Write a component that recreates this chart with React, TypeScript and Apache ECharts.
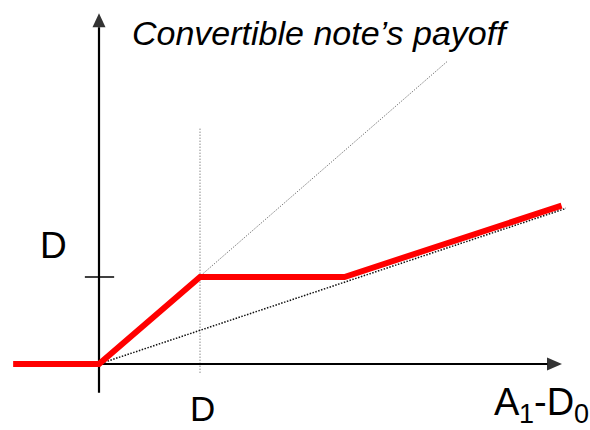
import React, { useEffect, useRef } from "react";
import * as echarts from "echarts";

// Payoff of the convertible note (units: D = 1)
const payoffX = [-0.85, 0, 1, 2.43, 4.58];
const payoffY = [0, 0, 1, 1, 1.82];

// Firm value line (payoff = A1 - D0)
const firmLineX = [0, 3.45];
const firmLineY = [0, 3.48];

// Conversion value line
const conversionLineX = [0, 4.73];
const conversionLineY = [0, 1.83];

// Vertical guide at D
const guideX = [1, 1];
const guideY = [-0.1, 2.71];

// Axes
const xAxisX = [0, 4.44];
const xAxisY = [0, 0];
const yAxisX = [0, 0];
const yAxisY = [-0.33, 3.87];
const xArrow = [4.51, 0];
const yArrow = [0, 3.95];

// Tick mark at D on the vertical axis
const tickX = [-0.14, 0.15];
const tickY = [1, 1];

const titleText = "Convertible note\u2019s payoff";
const tickLabel = "D";

const zip = (xs: number[], ys: number[]) => xs.map((x, i) => [x, ys[i]]);

const FONT = "Liberation Sans, Arial, sans-serif";

export default function App() {
  const ref = useRef<HTMLDivElement>(null);

  useEffect(() => {
    if (!ref.current) return;
    const chart = echarts.init(ref.current, undefined, { renderer: "svg" });

    const lineBase = {
      type: "line" as const,
      symbol: "none",
      clip: false,
      silent: true,
    };

    chart.setOption({
      animation: false,
      backgroundColor: "#ffffff",
      // 1 unit = 101 px horizontally, 87 px vertically; origin at (99, 364)
      grid: { left: 3.05, top: 16, width: 560.55, height: 382.8 },
      xAxis: {
        type: "value",
        min: -0.95,
        max: 4.6,
        show: false,
      },
      yAxis: {
        type: "value",
        min: -0.4,
        max: 4,
        show: false,
      },
      series: [
        {
          ...lineBase,
          name: "guide",
          data: zip(guideX, guideY),
          lineStyle: { color: "#555", width: 1, type: [1, 2] },
        },
        {
          ...lineBase,
          name: "firm",
          data: zip(firmLineX, firmLineY),
          lineStyle: { color: "#555", width: 1, type: [1, 1.5] },
        },
        {
          ...lineBase,
          name: "conversion",
          data: zip(conversionLineX, conversionLineY),
          lineStyle: { color: "#111", width: 1.5, type: [1.5, 1.5] },
        },
        {
          ...lineBase,
          name: "xaxis",
          data: zip(xAxisX, xAxisY),
          lineStyle: { color: "#000", width: 2.2 },
        },
        {
          ...lineBase,
          name: "yaxis",
          data: zip(yAxisX, yAxisY),
          lineStyle: { color: "#000", width: 2.2 },
        },
        {
          ...lineBase,
          name: "tick",
          data: zip(tickX, tickY),
          lineStyle: { color: "#000", width: 1.5 },
        },
        {
          ...lineBase,
          name: "payoff",
          data: zip(payoffX, payoffY),
          lineStyle: { color: "#ff0000", width: 6, join: "miter", cap: "butt" },
          z: 5,
        },
        {
          type: "scatter",
          name: "arrows",
          clip: false,
          silent: true,
          data: [
            { value: xArrow, symbol: "triangle", symbolSize: [13, 15], symbolRotate: -90 },
            { value: yArrow, symbol: "triangle", symbolSize: [13, 14], symbolRotate: 0 },
          ],
          itemStyle: { color: "#000" },
          z: 6,
        },
      ],
      graphic: [
        {
          type: "text",
          x: 132,
          y: 32.7,
          style: {
            text: titleText,
            fontFamily: FONT,
            fontStyle: "italic",
            fontSize: 34,
            fill: "#000",
            align: "left",
            verticalAlign: "middle",
          },
        },
        {
          type: "text",
          x: 40,
          y: 245.2,
          style: {
            text: tickLabel,
            fontFamily: FONT,
            fontSize: 37,
            fill: "#000",
            align: "left",
            verticalAlign: "middle",
          },
        },
        {
          type: "text",
          x: 190,
          y: 408,
          style: {
            text: tickLabel,
            fontFamily: FONT,
            fontSize: 35,
            fill: "#000",
            align: "left",
            verticalAlign: "middle",
          },
        },
        {
          type: "text",
          x: 494,
          y: 401.8,
          style: { text: "A", fontFamily: FONT, fontSize: 38, fill: "#000", align: "left", verticalAlign: "middle" },
        },
        {
          type: "text",
          x: 519,
          y: 413.6,
          style: { text: "1", fontFamily: FONT, fontSize: 27, fill: "#000", align: "left", verticalAlign: "middle" },
        },
        {
          type: "text",
          x: 534,
          y: 401.8,
          style: { text: "-D", fontFamily: FONT, fontSize: 38, fill: "#000", align: "left", verticalAlign: "middle" },
        },
        {
          type: "text",
          x: 574,
          y: 413.6,
          style: { text: "0", fontFamily: FONT, fontSize: 27, fill: "#000", align: "left", verticalAlign: "middle" },
        },
      ],
    });

    return () => chart.dispose();
  }, []);

  return (
    <div
      ref={ref}
      style={{ position: "absolute", left: 0, top: 0, width: 590, height: 430 }}
    />
  );
}
